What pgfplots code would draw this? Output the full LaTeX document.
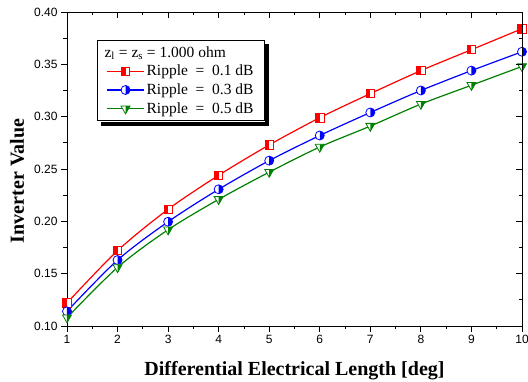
\documentclass[border=0pt]{standalone}
\usepackage{pgfplots}
\pgfplotsset{compat=1.18}
\usepackage{fontspec}
\setmainfont{Liberation Serif}
\newfontfamily\tickfont{Liberation Sans}
\definecolor{cred}{RGB}{255,0,0}
\definecolor{cblue}{RGB}{0,0,255}
\definecolor{cgreen}{RGB}{0,128,0}

\pgfdeclareplotmark{hsquare}{%
  \begin{pgfscope}\pgfsetfillcolor{white}%
  \pgfpathrectangle{\pgfpoint{-\pgfplotmarksize}{-\pgfplotmarksize}}{\pgfpoint{2\pgfplotmarksize}{2\pgfplotmarksize}}\pgfusepath{fill}\end{pgfscope}%
  \pgfpathrectangle{\pgfpoint{-\pgfplotmarksize}{-\pgfplotmarksize}}{\pgfpoint{\pgfplotmarksize}{2\pgfplotmarksize}}\pgfusepath{fill}%
  \pgfpathrectangle{\pgfpoint{-\pgfplotmarksize}{-\pgfplotmarksize}}{\pgfpoint{2\pgfplotmarksize}{2\pgfplotmarksize}}\pgfusepath{stroke}}
\pgfdeclareplotmark{hcircle}{%
  \begin{pgfscope}\pgfsetfillcolor{white}%
  \pgfpathcircle{\pgfpointorigin}{\pgfplotmarksize}\pgfusepath{fill}\end{pgfscope}%
  \pgfpathmoveto{\pgfpoint{0pt}{\pgfplotmarksize}}\pgfpatharc{90}{-90}{\pgfplotmarksize}\pgfpathclose\pgfusepath{fill}%
  \pgfpathcircle{\pgfpointorigin}{\pgfplotmarksize}\pgfusepath{stroke}}
\pgfdeclareplotmark{htri}{%
  \begin{pgfscope}\pgfsetfillcolor{white}%
  \pgfpathmoveto{\pgfpoint{-\pgfplotmarksize}{0.6\pgfplotmarksize}}\pgfpathlineto{\pgfpoint{\pgfplotmarksize}{0.6\pgfplotmarksize}}\pgfpathlineto{\pgfpoint{0pt}{-1.15\pgfplotmarksize}}\pgfpathclose\pgfusepath{fill}\end{pgfscope}%
  \pgfpathmoveto{\pgfpoint{0pt}{0.6\pgfplotmarksize}}\pgfpathlineto{\pgfpoint{\pgfplotmarksize}{0.6\pgfplotmarksize}}\pgfpathlineto{\pgfpoint{0pt}{-1.15\pgfplotmarksize}}\pgfpathclose\pgfusepath{fill}%
  \pgfpathmoveto{\pgfpoint{-\pgfplotmarksize}{0.6\pgfplotmarksize}}\pgfpathlineto{\pgfpoint{\pgfplotmarksize}{0.6\pgfplotmarksize}}\pgfpathlineto{\pgfpoint{0pt}{-1.15\pgfplotmarksize}}\pgfpathclose\pgfusepath{stroke}}

\tikzset{
  sred/.style={color=cred, line width=1.2pt, mark=hsquare, mark size=4.2pt, mark options={solid, draw=cred, fill=cred, line width=0.8pt}},
  sblue/.style={color=cblue, line width=1.2pt, mark=hcircle, mark size=4.5pt, mark options={solid, draw=cblue, fill=cblue, line width=0.8pt}},
  sgreen/.style={color=cgreen, line width=1.2pt, mark=htri, mark size=4.5pt, mark options={solid, draw=cgreen, fill=cgreen, line width=0.8pt}},
}

\pgfplotstableread{
x red blue green
1 0.122 0.114 0.108
2 0.172 0.163 0.156
3 0.2115 0.1996 0.192
4 0.244 0.2306 0.221
5 0.273 0.258 0.247
6 0.299 0.282 0.271
7 0.322 0.304 0.291
8 0.344 0.325 0.312
9 0.364 0.344 0.330
10 0.384 0.362 0.348
}\datatab

\begin{document}
\begin{tikzpicture}
\useasboundingbox (0,0) rectangle (528pt,382pt);
\pgfplotsset{
  common/.style={
    at={(67pt,56pt)}, anchor=south west,
    width=455pt, height=314pt, scale only axis,
    xmin=1, xmax=10, ymin=0.10, ymax=0.40,
    xtick={1,...,10}, ytick={0.10,0.15,...,0.40},
    minor x tick num=1, minor y tick num=1,
    major tick length=6pt, minor tick length=3.5pt,
    every tick/.style={black, line width=0.8pt},
    every minor tick/.style={black, line width=0.8pt},
    axis line style={line width=0.8pt},
  },
}
\begin{axis}[common,
  tick align=outside, xtick pos=left, ytick pos=left,
  /pgf/number format/assume math mode=true,
  ticklabel style={font=\tickfont\fontsize{12}{13}\selectfont},
  yticklabel style={/pgf/number format/fixed, /pgf/number format/fixed zerofill, /pgf/number format/precision=2},
  xlabel={\bfseries Differential Electrical Length [deg]},
  ylabel={\bfseries Inverter Value},
  xlabel style={font=\fontsize{20}{22}\selectfont, yshift=-11pt},
  ylabel style={font=\fontsize{20}{22}\selectfont, at={(ticklabel cs:0.462)}, yshift=3pt},
  legend style={name=leg, at={(0.066,0.911)}, anchor=north west, line width=0.8pt,
    font=\fontsize{15.5}{16}\selectfont, inner xsep=9pt, inner ysep=4pt,
    row sep=2.5pt},
  legend cell align=left,
]
\addlegendimage{legend image code/.code={}}
\addlegendentry{\hspace*{-42pt}\rule[-9pt]{0pt}{12pt}z\textsubscript{l} = z\textsubscript{s} = 1.000 ohm}
\addlegendimage{sred, legend image code/.code={\draw[sred, mark repeat=2, mark phase=2] plot coordinates {(0cm,0cm)(0.65cm,0cm)(1.3cm,0cm)};}}
\addlegendentry{Ripple\ \ =\ \ 0.1 dB}
\addlegendimage{sblue, legend image code/.code={\draw[sblue, mark repeat=2, mark phase=2] plot coordinates {(0cm,0cm)(0.65cm,0cm)(1.3cm,0cm)};}}
\addlegendentry{Ripple\ \ =\ \ 0.3 dB}
\addlegendimage{sgreen, legend image code/.code={\draw[sgreen, mark repeat=2, mark phase=2] plot coordinates {(0cm,0cm)(0.65cm,0cm)(1.3cm,0cm)};}}
\addlegendentry{Ripple\ \ =\ \ 0.5 dB}
\addplot[sred, smooth, forget plot] table[x=x,y=red] {\datatab};
\addplot[sblue, smooth, forget plot] table[x=x,y=blue] {\datatab};
\addplot[sgreen, smooth, forget plot] table[x=x,y=green] {\datatab};
\end{axis}
\begin{axis}[common,
  tick align=inside, axis x line*=top, axis y line*=right,
  xticklabels={}, yticklabels={},
  axis line style={-}, 
]
\end{axis}
\fill[black] ([yshift=-4.4pt]leg.north east) rectangle ([xshift=4.4pt,yshift=-4.4pt]leg.south east);
\fill[black] ([xshift=4.4pt,yshift=-0.4pt]leg.south west) rectangle ([xshift=4.4pt,yshift=-4.4pt]leg.south east);
\end{tikzpicture}
\end{document}
